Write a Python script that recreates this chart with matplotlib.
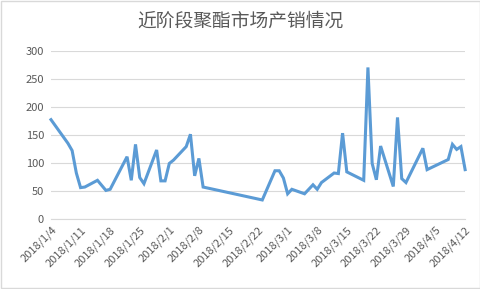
import pandas as pd
import matplotlib
matplotlib.use("Agg")
import matplotlib.pyplot as plt
import matplotlib.transforms as mtransforms
from matplotlib.patches import Rectangle

plt.rcParams['font.family'] = ['Noto Sans CJK SC', 'DejaVu Sans']

# 数据
dates = [
    "2018-01-04", "2018-01-08", "2018-01-09", "2018-01-10", "2018-01-11", "2018-01-12",
    "2018-01-15", "2018-01-17", "2018-01-18", "2018-01-22", "2018-01-23", "2018-01-24",
    "2018-01-25", "2018-01-26", "2018-01-29", "2018-01-30", "2018-01-31", "2018-02-01",
    "2018-02-02", "2018-02-05", "2018-02-06", "2018-02-07", "2018-02-08", "2018-02-09",
    "2018-02-23", "2018-02-26", "2018-02-27", "2018-02-28", "2018-03-01", "2018-03-02",
    "2018-03-05", "2018-03-07", "2018-03-08", "2018-03-09", "2018-03-12", "2018-03-13",
    "2018-03-14", "2018-03-15", "2018-03-19", "2018-03-20", "2018-03-21", "2018-03-22",
    "2018-03-23", "2018-03-26", "2018-03-27", "2018-03-28", "2018-03-29", "2018-04-02",
    "2018-04-03", "2018-04-08", "2018-04-09", "2018-04-10", "2018-04-11", "2018-04-12",
]
values = [
    177, 135, 122, 82, 56, 57,
    69, 51, 53, 111, 69, 133,
    74, 63, 123, 68, 68, 99,
    105, 129, 151, 77, 108, 57,
    34, 86, 86, 73, 45, 53,
    45, 61, 53, 65, 82, 81,
    153, 84, 69, 270, 99, 70,
    130, 58, 181, 72, 65, 126,
    88, 106, 133, 124, 129, 88,
]
title = "近阶段聚酯市场产销情况"
y_ticks = [0, 50, 100, 150, 200, 250, 300]

x = pd.to_datetime(dates)
tick_dates = pd.date_range("2018-01-04", "2018-04-12", freq="7D")

grey = '#595959'

fig = plt.figure(figsize=(4.81, 2.89), dpi=100)
ax = fig.add_axes([0.106, 0.242, 0.861, 0.583])

ax.plot(x, values, color='#5B9BD5', linewidth=2.2, solid_joinstyle='miter', clip_on=False)

ax.set_xlim(tick_dates[0], tick_dates[-1])
ax.set_ylim(0, 300)
ax.set_yticks(y_ticks)
ax.set_xticks(tick_dates)
ax.set_xticklabels([f"{d.year}/{d.month}/{d.day}" for d in tick_dates],
                   rotation=45, ha='right', va='top', rotation_mode='anchor')
# Excel 的斜标签略微向右偏
shift = mtransforms.ScaledTranslation(4 / 100, -2 / 100, fig.dpi_scale_trans)
for lab in ax.get_xticklabels():
    lab.set_transform(lab.get_transform() + shift)

ax.grid(axis='y', color='#D9D9D9', linewidth=0.8)
ax.set_axisbelow(True)
for s in ['top', 'right', 'left']:
    ax.spines[s].set_visible(False)
ax.spines['bottom'].set_color('#D9D9D9')
ax.spines['bottom'].set_linewidth(0.8)
ax.tick_params(axis='both', length=0, colors=grey, labelsize=8)
ax.tick_params(axis='y', pad=5)
ax.tick_params(axis='x', pad=4)

fig.text(0.5, 0.927, title, ha='center', va='center', fontsize=13.5, color=grey)

fig.patches.append(Rectangle((0.002, 0.003), 0.996, 0.994, transform=fig.transFigure,
                             fill=False, edgecolor='#D9D9D9', linewidth=1))

fig.savefig("out.png", dpi=100)
